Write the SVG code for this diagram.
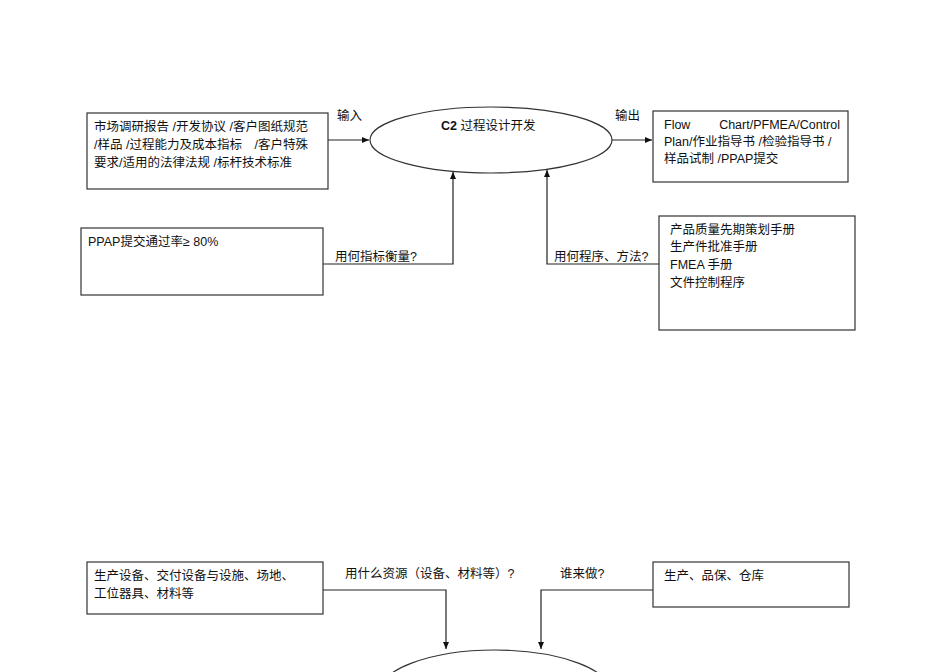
<svg xmlns="http://www.w3.org/2000/svg" width="950" height="672" viewBox="0 0 950 672">
<style>
.b{fill:#fff;stroke:#333;stroke-width:1.2}
.t{font-family:"Liberation Sans","Noto Sans CJK SC",sans-serif;font-size:12.5px;fill:#111}
.c{fill:none;stroke:#222;stroke-width:1.2}
</style>
<defs><marker id="a" markerWidth="8" markerHeight="8" refX="7" refY="4" orient="auto" markerUnits="userSpaceOnUse"><path d="M0,1 L7,4 L0,7 Z" fill="#111"/></marker></defs>
<rect width="950" height="672" fill="#fff"/>
<g id="connectors">
<path class="c" d="M328,140 H369" marker-end="url(#a)"/>
<path class="c" d="M612,140 H652" marker-end="url(#a)"/>
<path class="c" d="M323,264 H453 V172" marker-end="url(#a)"/>
<path class="c" d="M659,264 H547 V170" marker-end="url(#a)"/>
<path class="c" d="M323,590 H446 V649" marker-end="url(#a)"/>
<path class="c" d="M653,590 H541 V649" marker-end="url(#a)"/>
<text class="t" x="337" y="120">输入</text>
<text class="t" x="615" y="120">输出</text>
<text class="t" x="335" y="261">用何指标衡量?</text>
<text class="t" x="554" y="261">用何程序、方法?</text>
<text class="t" x="345" y="578">用什么资源（设备、材料等）?</text>
<text class="t" x="560" y="578">谁来做?</text>
</g>
<g id="c2"><ellipse class="b" cx="491" cy="140" rx="121" ry="33"/><text class="t" x="441" y="130"><tspan font-weight="bold">C2</tspan> 过程设计开发</text></g>
<g id="inputs"><rect class="b" x="87" y="113" width="241" height="76"/>
<text class="t" x="94" y="131">市场调研报告 /开发协议 /客户图纸规范</text>
<text class="t" x="94" y="149">/样品 /过程能力及成本指标　/客户特殊</text>
<text class="t" x="94" y="167">要求/适用的法律法规 /标杆技术标准</text></g>
<g id="outputs"><rect class="b" x="653" y="111" width="195" height="71"/>
<text class="t" x="664" y="129">Flow</text><text class="t" x="840" y="129" text-anchor="end">Chart/PFMEA/Control</text>
<text class="t" x="664" y="146">Plan/作业指导书 /检验指导书 /</text>
<text class="t" x="664" y="163">样品试制 /PPAP提交</text></g>
<g id="kpi"><rect class="b" x="81" y="228" width="242" height="67"/>
<text class="t" x="88" y="246">PPAP提交通过率≥ 80%</text></g>
<g id="methods"><rect class="b" x="659" y="216" width="196" height="114"/>
<text class="t" x="670" y="234">产品质量先期策划手册</text>
<text class="t" x="670" y="251">生产件批准手册</text>
<text class="t" x="670" y="269">FMEA 手册</text>
<text class="t" x="670" y="287">文件控制程序</text></g>
<g id="resources"><rect class="b" x="87" y="562" width="236" height="52"/>
<text class="t" x="94" y="580">生产设备、交付设备与设施、场地、</text>
<text class="t" x="94" y="598">工位器具、材料等</text></g>
<g id="who"><rect class="b" x="653" y="562" width="196" height="45"/>
<text class="t" x="664" y="580">生产、品保、仓库</text></g>
<g id="bottom"><ellipse class="b" cx="495" cy="695" rx="118" ry="45"/></g>
</svg>
